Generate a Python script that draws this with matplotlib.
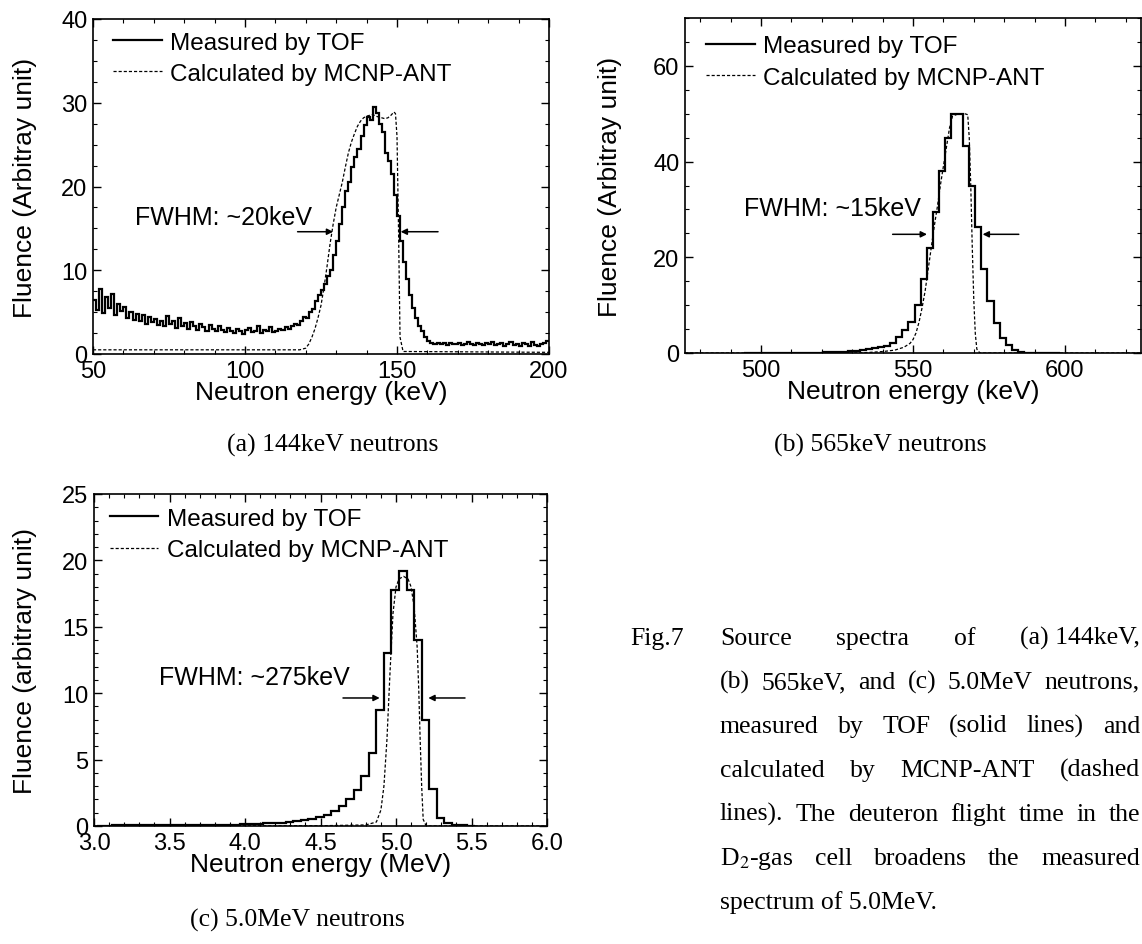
import numpy as np
import matplotlib.pyplot as plt
from matplotlib.ticker import MultipleLocator, FormatStrFormatter

plt.rcParams['font.family'] = ['Liberation Sans', 'DejaVu Sans']
plt.rcParams['mathtext.fontset'] = 'stix'

# ---- (a) 144 keV neutrons ----
a_edges = np.arange(50, 201, 1)
a_tof = [6.5, 5.2, 7.8, 4.9, 6.8, 5.5, 7.2, 4.6, 6.0, 5.1,
         5.6, 4.3, 5.0, 4.1, 4.8, 3.9, 4.6, 3.6, 4.4, 3.8,
         4.2, 3.5, 4.0, 3.3, 4.5, 3.6, 3.9, 3.1, 4.3, 3.4,
         3.7, 3.0, 3.8, 3.3, 2.9, 3.6, 3.2, 2.8, 3.5, 3.0,
         2.7, 3.3, 2.9, 2.6, 3.1, 2.8, 2.5, 3.0, 2.7, 2.4,
         2.9, 3.1, 2.6, 2.8, 3.3, 2.5, 2.9, 2.7, 3.2, 2.6,
         2.8, 3.0, 2.9, 3.2, 3.0, 3.4, 3.6, 3.5, 3.9, 4.4,
         4.3, 5.0, 5.4, 6.3, 7.0, 7.6, 8.3, 9.3, 10.0, 11.8,
         13.5, 15.5, 17.5, 19.5, 20.5, 22.3, 23.5, 24.5, 26.0, 27.3,
         28.3, 28.0, 29.5, 28.8, 27.5, 26.5, 24.0, 23.0, 21.5, 19.0,
         16.5, 13.5, 11.0, 9.0, 7.0, 5.5, 4.3, 3.3, 2.7, 2.0,
         1.6, 1.3, 1.2, 1.3, 1.2, 1.3, 1.1, 1.3, 1.2, 1.2,
         1.3, 1.1, 1.2, 1.4, 1.2, 1.1, 1.3, 1.2, 1.1, 1.3,
         1.2, 1.4, 1.1, 1.2, 1.3, 1.0, 1.2, 1.4, 1.1, 1.2,
         1.0, 1.3, 1.2, 0.9, 1.4, 1.1, 1.0, 1.2, 1.3, 1.5]
a_mc_e = [50, 118, 120, 121, 122, 123, 124, 125, 126, 127, 128, 129, 130, 131,
          132, 133, 134, 135, 136, 137, 138, 139, 140, 141, 142, 143, 144, 145,
          146, 147, 148, 149, 149.5, 150, 150.5, 151, 152, 200]
a_mc = [0.5, 0.5, 0.7, 1.2, 2.0, 3.0, 4.3, 5.8, 8.0, 10.5, 13.2, 15.5, 17.5, 19.0,
        20.5, 22.3, 24.0, 25.3, 26.3, 27.2, 27.8, 28.2, 28.4, 28.5, 28.6, 28.4, 28.3, 28.2,
        28.1, 28.2, 28.5, 28.9, 28.7, 26.0, 15.0, 2.0, 0.3, 0.2]
a_fwhm = "FWHM: ~20keV"
a_fwhm_xy = (63.7, 16.4)
a_arrow_y = 14.6
a_arrows = [(117.3, 129.0), (163.5, 151.2)]

# ---- (b) 565 keV neutrons ----
b_edges = np.arange(494.5, 600, 2)
b_tof = [0.05, 0.05, 0.06, 0.05, 0.06, 0.07, 0.06, 0.07, 0.08, 0.08, 0.09, 0.1, 0.1,
         0.12, 0.15, 0.2, 0.25, 0.35, 0.5, 0.6, 0.8, 1.0, 1.2,
         1.5, 2.0, 3.3, 4.8, 6.5, 10.0, 15.5, 22.0, 29.5, 38.0,
         45.0, 50.0, 50.0, 43.3, 35.0, 26.4, 17.5, 10.8, 6.2, 3.2,
         1.6, 0.6, 0.2, 0.08, 0.03, 0.02, 0.01, 0.0, 0.0]
b_mc_e = [475, 530, 535, 540, 544, 547, 549, 550, 551, 552, 553, 554, 555, 556, 557, 558,
          559, 560, 561, 562, 563, 565, 567, 568, 568.5, 569, 569.5, 570, 570.5, 571, 572, 625]
b_mc = [0, 0, 0.1, 0.3, 0.6, 1.2, 2.0, 2.8, 4.2, 6.5, 9.5, 13.0, 17.5, 22.0, 26.5, 30.5,
        35.0, 39.0, 43.0, 47.0, 49.5, 50.0, 50.0, 49.8, 45.0, 35.0, 22.0, 11.0, 4.0, 0.8, 0, 0]
b_fwhm = "FWHM: ~15keV"
b_fwhm_xy = (494.5, 30.2)
b_arrow_y = 24.8
b_arrows = [(543.3, 554.6), (584.8, 572.9)]

# ---- (c) 5.0 MeV neutrons ----
c_edges = 3.02 + 0.05 * np.arange(51)
c_tof = [0.03, 0.03, 0.04, 0.04, 0.04, 0.05, 0.05, 0.05, 0.06, 0.06,
         0.06, 0.07, 0.07, 0.08, 0.08, 0.09, 0.1, 0.1, 0.11, 0.12,
         0.14, 0.16, 0.19, 0.22, 0.26, 0.3, 0.36, 0.42, 0.5, 0.65,
         0.8, 1.1, 1.5, 2.0, 2.7, 3.8, 5.5, 8.7, 13.0, 17.8,
         19.2, 17.8, 14.0, 8.0, 2.8, 0.6, 0.25, 0.1, 0.05, 0.02]
c_mc_e = [3.0, 4.5, 4.8, 4.87, 4.9, 4.92, 4.94, 4.96, 4.98, 5.0, 5.02, 5.05, 5.08,
          5.1, 5.12, 5.14, 5.15, 5.16, 5.17, 5.18, 5.2, 6.0]
c_mc = [0, 0.02, 0.08, 0.3, 1.2, 3.0, 6.5, 11.5, 16.0, 18.0, 18.6, 18.8, 18.6,
        18.0, 16.5, 13.5, 10.5, 6.5, 3.0, 0.5, 0.0, 0]
c_fwhm = "FWHM: ~275keV"
c_fwhm_xy = (3.43, 11.2)
c_arrow_y = 9.64
c_arrows = [(4.649, 4.892), (5.457, 5.214)]

captions = ["(a) 144keV neutrons", "(b) 565keV neutrons", "(c) 5.0MeV neutrons"]
fig_label = "Fig.7"
para_lines = [["Source", "spectra", "of", "(a) 144keV,"],
              ["(b)", "565keV,", "and", "(c)", "5.0MeV", "neutrons,"],
              ["measured", "by", "TOF", "(solid", "lines)", "and"],
              ["calculated", "by", "MCNP-ANT", "(dashed"],
              ["lines).", "The", "deuteron", "flight", "time", "in", "the"],
              ["D$_2$-gas", "cell", "broadens", "the", "measured"]]
para_last = "spectrum of 5.0MeV."

W, H = 1142, 945
fig = plt.figure(figsize=(W / 100, H / 100), dpi=100)


def px_axes(l, t, r, b):
    return fig.add_axes([l / W, 1 - b / H, (r - l) / W, (b - t) / H])


def setup(ax, xlim, ylim, xmaj, xmin, ymaj, ymin, xlab, ylab, ylab_x):
    ax.set_xlim(*xlim)
    ax.set_ylim(*ylim)
    ax.xaxis.set_major_locator(MultipleLocator(xmaj))
    ax.xaxis.set_minor_locator(MultipleLocator(xmin))
    ax.yaxis.set_major_locator(MultipleLocator(ymaj))
    ax.yaxis.set_minor_locator(MultipleLocator(ymin))
    ax.tick_params(which='both', direction='in', top=True, right=True,
                   labelsize=17, pad=4)
    ax.tick_params(which='major', length=5.5, width=1)
    ax.tick_params(which='minor', length=3, width=0.8)
    for s in ax.spines.values():
        s.set_linewidth(1.2)
    ax.set_xlabel(xlab, fontsize=19)
    ax.set_ylabel(ylab, fontsize=19)
    ax.xaxis.set_label_coords(0.5, -0.078)
    ax.yaxis.set_label_coords(ylab_x, 0.5)


def draw(ax, edges, tof, mc_e, mc, fwhm, fwhm_xy, arrows, arrow_y, leg_xy):
    ax.stairs(tof, edges, baseline=None, color='black', lw=1.6,
              label='Measured by TOF')
    ax.plot(mc_e, mc, color='black', lw=0.9, dashes=(2.5, 1.6),
            label='Calculated by MCNP-ANT')
    ax.text(fwhm_xy[0], fwhm_xy[1], fwhm, fontsize=18, va='center')
    for x0, x1 in arrows:
        ax.annotate('', xy=(x1, arrow_y), xytext=(x0, arrow_y),
                    arrowprops=dict(arrowstyle='-|>', color='black', lw=1.1,
                                    mutation_scale=9, shrinkA=0, shrinkB=0))
    ax.legend(loc='upper left', bbox_to_anchor=leg_xy, frameon=False,
              fontsize=17.5, handlelength=2.0, handletextpad=0.35,
              labelspacing=0.38, borderaxespad=0, borderpad=0)


ax_a = px_axes(93, 20, 549, 355)
setup(ax_a, (50, 200), (0, 40), 50, 10, 10, 2.5,
      "Neutron energy (keV)", "Fluence (Arbitray unit)", -0.123)
draw(ax_a, a_edges, a_tof, a_mc_e, a_mc, a_fwhm, a_fwhm_xy, a_arrows, a_arrow_y,
     (0.044, 0.962))

ax_b = px_axes(685, 19, 1141, 354)
setup(ax_b, (475, 625), (0, 70), 50, 10, 20, 5,
      "Neutron energy (keV)", "Fluence (Arbitray unit)", -0.138)
draw(ax_b, b_edges, b_tof, b_mc_e, b_mc, b_fwhm, b_fwhm_xy, b_arrows, b_arrow_y,
     (0.046, 0.948))

ax_c = px_axes(94, 495, 547, 827)
setup(ax_c, (3.0, 6.0), (0, 25), 0.5, 0.1, 5, 1,
      "Neutron energy (MeV)", "Fluence (arbitrary unit)", -0.126)
ax_c.xaxis.set_major_formatter(FormatStrFormatter('%.1f'))
draw(ax_c, c_edges, c_tof, c_mc_e, c_mc, c_fwhm, c_fwhm_xy, c_arrows, c_arrow_y,
     (0.035, 0.958))

serif = dict(family=['Liberation Serif', 'DejaVu Serif'], fontsize=18.5)
for txt, (cx, cy) in zip(captions, [(333, 445), (880, 445), (297, 920)]):
    fig.text(cx / W, 1 - cy / H, txt, ha='center', va='center', **serif)

# caption paragraph, justified
fig.text(684 / W, 1 - 645 / H, fig_label, ha='right', va='baseline', **serif)
renderer = fig.canvas.get_renderer()
x_left, x_right = 720, 1140
for i, words in enumerate(para_lines):
    y = 1 - (645 + 44 * i) / H
    texts = [fig.text(0, y, w, va='baseline', **serif) for w in words]
    widths = [t.get_window_extent(renderer).width for t in texts]
    gap = (x_right - x_left - sum(widths)) / (len(words) - 1)
    x = x_left
    for t, w in zip(texts, widths):
        t.set_x(x / W)
        x += w + gap
fig.text(x_left / W, 1 - (645 + 44 * len(para_lines)) / H, para_last,
         va='baseline', **serif)

fig.savefig("out.png", dpi=100)
